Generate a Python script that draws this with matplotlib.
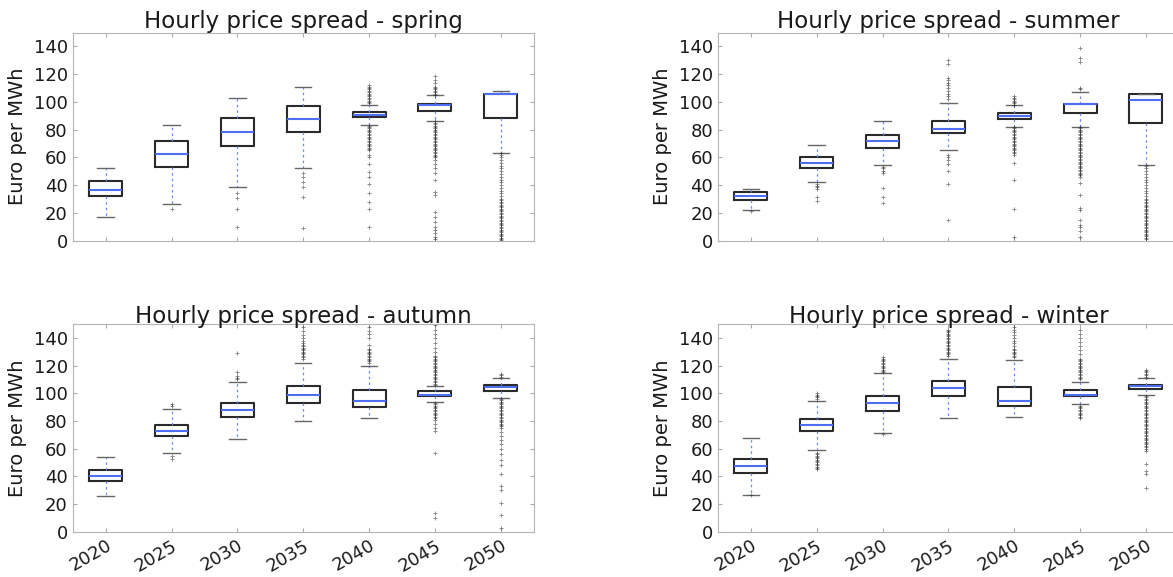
import matplotlib
matplotlib.use('Agg')
import matplotlib.pyplot as plt

years = ['2020', '2025', '2030', '2035', '2040', '2045', '2050']

# spring
spring_med = [36.7, 62.6, 78.6, 87.7, 90.4, 97.6, 105.5]
spring_q1 = [32.4, 53.2, 68.3, 78.4, 89.2, 93.5, 88.7]
spring_q3 = [43.2, 71.9, 88.7, 97.3, 92.8, 98.8, 105.8]
spring_lo = [16.8, 26.1, 38.4, 52.7, 83.7, 86.3, 63.3]
spring_hi = [52.0, 83.4, 102.6, 110.8, 97.8, 104.8, 107.9]
spring_fliers = [
    [],
    [22.8],
    [34, 31, 22.5, 10],
    [48.4, 46, 42.4, 38.8, 31.6, 9.4],
    [99, 100, 101, 102, 103, 104, 105, 106, 107, 108, 109, 110, 111, 112,
     83, 82, 81, 80, 79, 78, 77, 76, 75, 74, 73, 72, 71, 70, 69, 68, 67, 66, 65,
     62, 60, 55.6, 49.6, 46, 41, 34, 28, 22.5, 10],
    [105, 106, 107, 108, 109, 110, 111, 114, 116, 118.4,
     86, 85, 84, 83, 82, 81, 80, 79, 78, 77, 76, 75, 74, 73, 72, 71, 70, 69, 68,
     67, 66, 65, 64, 63, 62, 61, 60,
     58, 55.6, 52, 48.4, 44, 35, 33, 20.8, 17, 13.7, 10, 7.7, 5.3, 2.4, 1],
    [63, 62, 60, 58, 56, 54, 52, 50, 48, 46, 44, 42, 40, 38, 36, 34, 32, 30,
     29, 28, 27, 26, 25, 24, 23, 22, 21, 20, 19, 18, 17, 16, 15, 14, 13, 12,
     11, 10, 9, 8, 7, 6, 5, 4, 3, 2, 1, 0.3],
]

# summer
summer_med = [32.4, 56.3, 71.7, 80.8, 90.1, 98.3, 101.7]
summer_q1 = [29.2, 52.3, 67.1, 77.7, 88.0, 91.8, 85.1]
summer_q3 = [34.8, 60.0, 76.0, 86.5, 92.3, 98.5, 106.0]
summer_lo = [22.0, 42.2, 54.4, 65.2, 82.2, 82.2, 54.7]
summer_hi = [37.4, 68.6, 86.3, 99.3, 97.6, 107.0, 106.0]
summer_fliers = [
    [21],
    [40.8, 39.5, 38.8, 37, 31.6, 28.5],
    [53, 52, 50.3, 49, 38, 31.6, 26.8],
    [102, 104, 106, 108, 110, 112, 114, 115.6, 117, 127, 130,
     62, 60.4, 58, 55.6, 50, 40.8, 14.9],
    [98, 99, 100, 101, 102, 103, 104,
     82, 81, 80, 79, 78, 77, 76, 75, 74, 73, 72, 71, 70, 69, 68, 67, 66, 65,
     64, 63, 62, 56, 44, 22.5, 2.4],
    [109, 110, 128.7, 132, 138.8,
     82, 81, 80, 79, 78, 77, 76, 75, 74, 73, 72, 71, 70, 69, 68, 67, 66, 65,
     64, 63, 62, 61, 60, 59, 58, 57, 56, 55, 54, 53, 52, 51, 50, 49, 48, 47,
     46, 41.4, 33, 23.4, 22, 14.9, 11, 10, 7, 2.9],
    [54, 52, 50, 48, 46, 44, 42, 40, 38, 36, 34, 32, 30, 29, 28, 27, 26, 25,
     24, 23, 22, 21, 20, 19, 18, 17, 16, 15, 14, 13, 12, 11, 10, 9, 8, 7, 6,
     5, 4, 3, 2, 1],
]

# autumn
autumn_med = [40.2, 72.5, 87.8, 98.8, 94.5, 98.6, 104.8]
autumn_q1 = [36.4, 68.9, 82.5, 93.3, 90.4, 98.1, 101.9]
autumn_q3 = [44.7, 77.0, 92.8, 105.0, 102.4, 101.7, 106.2]
autumn_lo = [25.8, 56.9, 67.2, 80.1, 82.0, 93.8, 96.4]
autumn_hi = [53.6, 88.8, 108.4, 122.0, 119.6, 105.5, 110.8]
autumn_fliers = [
    [],
    [91, 92, 54.5, 52.2],
    [110, 111, 112.4, 115.3, 128.7],
    [125, 126, 127, 128, 129, 130, 131, 132, 133, 134, 135, 136, 138, 140,
     142, 145, 148],
    [122, 123, 124, 125, 126, 127, 128, 129, 130, 131, 132, 135, 140, 143,
     145, 148],
    [106, 107, 108, 109, 110, 111, 112, 113, 114, 115, 116, 117, 118, 119,
     120, 121, 122, 123, 124, 125, 126, 127, 130, 133, 136, 140, 143, 146, 149,
     93, 92, 91, 90, 89, 88, 87, 86, 85, 84, 83, 82, 81, 78, 75, 73, 57,
     13.4, 9.6],
    [112, 113, 114,
     96, 95, 94, 93, 92, 91, 90, 89, 88, 87, 86, 85, 84, 83, 82, 81, 80, 79,
     78, 77, 76, 75, 72, 69, 66, 63, 60, 56, 52, 48, 42, 33, 30, 21, 12, 3],
]

# winter
winter_med = [47.2, 77.4, 93.3, 103.8, 94.7, 98.5, 105.0]
winter_q1 = [42.4, 72.4, 87.3, 98.1, 90.6, 98.3, 102.9]
winter_q3 = [52.7, 81.5, 98.3, 109.1, 104.3, 102.6, 106.2]
winter_lo = [26.6, 59.2, 71.0, 82.2, 83.0, 92.5, 98.5]
winter_hi = [67.8, 94.2, 114.6, 124.9, 124.0, 108.1, 110.8]
winter_fliers = [
    [26.4],
    [96, 97, 98, 99, 100,
     57, 56, 55, 54, 53, 52, 51, 50, 49, 48, 47, 46, 45],
    [115, 116, 117, 118, 119, 120, 121, 122, 123, 124, 125, 126, 70.2],
    [127, 128, 129, 130, 131, 132, 133, 134, 135, 136, 137, 138, 139, 140,
     141, 142, 143, 144, 145, 146],
    [126, 127, 128, 129, 130, 131, 132, 134, 136, 138, 140, 142, 144, 146,
     148, 150],
    [110, 111, 112, 113, 114, 115, 116, 117, 118, 119, 120, 121, 122, 123,
     124, 125, 128, 131, 134, 137, 140, 143, 145.8,
     91, 90, 89, 88, 87, 86, 85, 84, 83, 82.2],
    [112, 113, 114, 115, 116, 117,
     98, 97, 96, 95, 94, 93, 92, 91, 90, 89, 88, 87, 86, 85, 84, 83, 82, 81,
     80, 79, 78, 77, 76, 75, 74, 73, 72, 71, 70, 69, 68, 67, 66, 65, 64, 63,
     62, 61, 60, 58, 48.7, 44, 41.5, 31.4],
]

seasons = [
    ('spring', spring_med, spring_q1, spring_q3, spring_lo, spring_hi, spring_fliers),
    ('summer', summer_med, summer_q1, summer_q3, summer_lo, summer_hi, summer_fliers),
    ('autumn', autumn_med, autumn_q1, autumn_q3, autumn_lo, autumn_hi, autumn_fliers),
    ('winter', winter_med, winter_q1, winter_q3, winter_lo, winter_hi, winter_fliers),
]

# axes rectangles in figure fractions (right column runs past the right edge)
rects = [
    [0.062, 0.583, 0.393, 0.3605],
    [0.612, 0.583, 0.393, 0.3605],
    [0.062, 0.0785, 0.393, 0.360],
    [0.612, 0.0785, 0.393, 0.360],
]

fig = plt.figure(figsize=(11.73, 5.77), dpi=100)

for i, (name, med, q1, q3, lo, hi, fl) in enumerate(seasons):
    ax = fig.add_axes(rects[i])
    stats = []
    for k in range(len(years)):
        stats.append({'med': med[k], 'q1': q1[k], 'q3': q3[k],
                      'whislo': lo[k], 'whishi': hi[k], 'fliers': fl[k],
                      'label': years[k]})
    ax.bxp(stats, positions=range(1, 8), widths=0.5, capwidths=0.25,
           boxprops=dict(color='#2a2a2a', linewidth=1.5),
           medianprops=dict(color='#4f6ff0', linewidth=1.5),
           whiskerprops=dict(color='#6f88f2', linestyle=(0, (2, 2.5)), linewidth=0.9),
           capprops=dict(color='#666666', linewidth=1.0),
           flierprops=dict(marker='+', markeredgecolor='#222222', markersize=3,
                           markeredgewidth=0.7, alpha=0.5, linestyle='none'))
    ax.set_xlim(0.5, 7.5)
    ax.set_ylim(0, 150)
    ax.set_yticks(range(0, 141, 20))
    ax.set_title('Hourly price spread - ' + name, fontsize=16.5, pad=1, color='#1a1a1a')
    ax.set_ylabel('Euro per MWh', fontsize=14, labelpad=5, color='#1a1a1a')
    for s in ax.spines.values():
        s.set_color('#b5b5b5')
    ax.tick_params(direction='in', top=True, right=True, length=3, color='#aaaaaa',
                   labelsize=13, labelcolor='#1a1a1a')
    if i < 2:
        ax.set_xticklabels([])
    else:
        ax.set_xticklabels(years, rotation=30, ha='right', rotation_mode='anchor')

fig.savefig('out.png', dpi=100)
